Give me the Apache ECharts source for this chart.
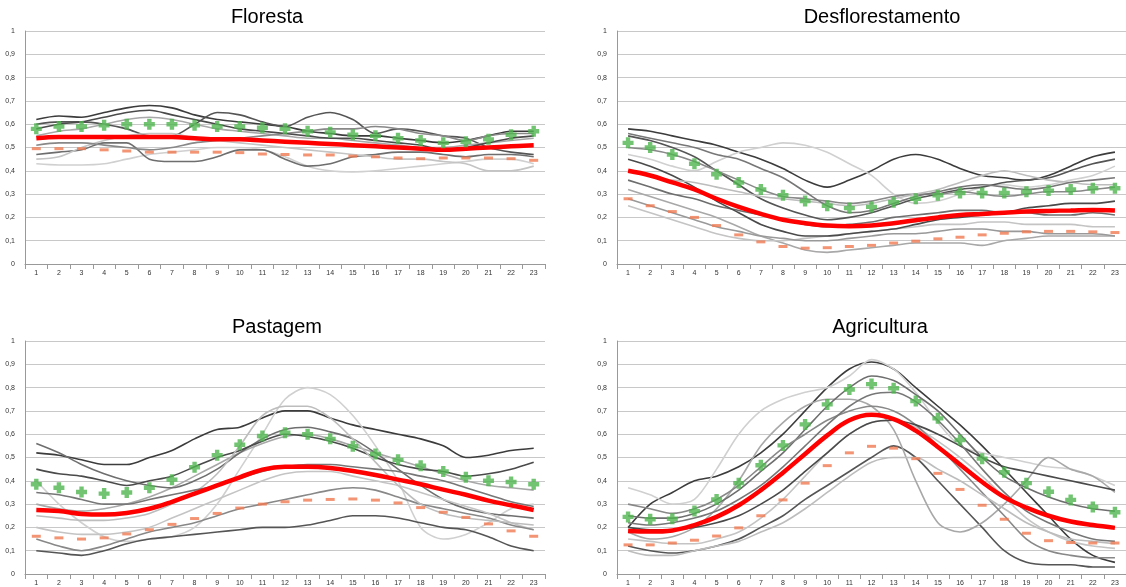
<!DOCTYPE html>
<html>
<head>
<meta charset="utf-8">
<script src="https://cdn.jsdelivr.net/npm/echarts@6/dist/echarts.min.js"></script>
<style>
	html, body { margin: 0; padding: 0; background: #fff; }
	#chart { width: 1126px; height: 587px; }
</style>
</head>
<body>
<div id="chart"></div>
<script type="text/javascript">
	var categories = ['1','2','3','4','5','6','7','8','9','10','11','12','13','14','15','16','17','18','19','20','21','22','23'];
	var yTicks = ['0','0,1','0,2','0,3','0,4','0,5','0,6','0,7','0,8','0,9','1'];

	// Floresta
	var florestaMean  = [.54,.545,.545,.545,.545,.545,.545,.54,.535,.535,.53,.525,.52,.515,.51,.505,.50,.495,.49,.495,.50,.505,.51];
	var florestaPlus  = [.58,.59,.59,.595,.60,.60,.60,.595,.59,.59,.585,.58,.57,.565,.555,.55,.54,.53,.52,.525,.535,.555,.57];
	var florestaMinus = [.495,.495,.495,.49,.485,.48,.48,.48,.48,.478,.472,.47,.468,.468,.463,.46,.455,.452,.455,.455,.455,.452,.445];
	var florestaSamples = [
		[.62,.635,.63,.65,.67,.68,.67,.64,.62,.61,.60,.59,.57,.56,.55,.55,.54,.53,.52,.53,.55,.57,.57],
		[.43,.425,.425,.43,.45,.47,.48,.49,.50,.50,.49,.46,.42,.40,.395,.40,.41,.42,.43,.44,.45,.45,.43],
		[.60,.61,.61,.60,.58,.55,.55,.60,.65,.64,.61,.59,.63,.65,.62,.56,.58,.57,.55,.54,.50,.48,.47],
		[.55,.57,.58,.60,.62,.63,.62,.60,.58,.57,.56,.55,.54,.54,.53,.52,.51,.50,.50,.51,.52,.53,.54],
		[.47,.48,.49,.52,.52,.45,.44,.44,.46,.49,.49,.45,.42,.43,.46,.47,.48,.48,.47,.46,.47,.47,.46],
		[.45,.46,.50,.53,.55,.56,.56,.54,.53,.52,.51,.50,.49,.48,.47,.46,.45,.45,.44,.43,.40,.40,.42],
		[.51,.52,.52,.51,.50,.49,.50,.52,.53,.54,.55,.56,.57,.58,.58,.59,.58,.56,.55,.53,.55,.56,.56],
		[.58,.60,.61,.63,.65,.66,.64,.62,.60,.58,.57,.56,.55,.54,.54,.53,.52,.51,.49,.50,.52,.54,.55]
	];

	// Desflorestamento
	var desfMean  = [.40,.38,.35,.32,.28,.245,.215,.19,.175,.165,.162,.165,.175,.188,.20,.21,.215,.22,.225,.228,.23,.232,.23];
	var desfPlus  = [.52,.50,.47,.43,.385,.35,.32,.295,.27,.25,.24,.245,.265,.28,.295,.305,.305,.305,.31,.315,.32,.325,.325];
	var desfMinus = [.28,.25,.225,.20,.165,.125,.095,.075,.068,.07,.075,.08,.09,.098,.108,.115,.125,.132,.138,.14,.14,.138,.135];
	var desfSamples = [
		[.58,.57,.55,.53,.51,.48,.45,.41,.36,.33,.36,.40,.45,.47,.45,.41,.38,.37,.36,.38,.42,.46,.48],
		[.47,.45,.42,.40,.44,.48,.50,.52,.51,.48,.43,.38,.30,.26,.27,.30,.33,.34,.33,.34,.36,.38,.42],
		[.55,.53,.50,.46,.40,.34,.28,.24,.21,.19,.20,.22,.25,.28,.30,.32,.33,.35,.36,.37,.40,.43,.45],
		[.32,.29,.26,.23,.20,.16,.12,.09,.06,.05,.06,.07,.08,.09,.09,.09,.08,.10,.11,.12,.12,.12,.12],
		[.36,.33,.30,.28,.25,.23,.21,.19,.17,.16,.17,.18,.20,.21,.22,.23,.23,.22,.22,.21,.21,.22,.21],
		[.25,.22,.19,.16,.13,.11,.10,.10,.11,.12,.13,.14,.15,.16,.17,.17,.18,.18,.17,.17,.17,.16,.16],
		[.50,.49,.47,.44,.40,.36,.32,.29,.28,.27,.26,.27,.29,.30,.30,.31,.30,.29,.30,.31,.31,.32,.33],
		[.45,.42,.38,.33,.27,.22,.17,.14,.12,.12,.13,.14,.15,.17,.19,.20,.21,.22,.24,.25,.26,.26,.27],
		[.40,.38,.36,.35,.33,.31,.29,.28,.27,.26,.25,.26,.28,.30,.32,.35,.38,.40,.38,.36,.35,.34,.34],
		[.56,.54,.52,.50,.47,.45,.41,.37,.31,.25,.22,.23,.26,.29,.31,.33,.34,.33,.32,.33,.35,.36,.37],
		[.28,.25,.22,.19,.16,.14,.12,.11,.10,.10,.11,.12,.13,.13,.14,.15,.15,.14,.14,.13,.13,.13,.12]
	];

	// Pastagem
	var pastMean  = [.275,.27,.258,.255,.262,.28,.31,.345,.38,.415,.448,.46,.46,.455,.442,.425,.405,.385,.362,.34,.315,.295,.275];
	var pastPlus  = [.385,.37,.352,.345,.35,.37,.405,.458,.51,.555,.592,.606,.60,.58,.548,.515,.49,.465,.44,.415,.40,.395,.385];
	var pastMinus = [.162,.155,.15,.155,.172,.19,.213,.238,.26,.283,.30,.31,.317,.32,.322,.317,.305,.285,.265,.243,.215,.185,.162];
	var pastSamples = [
		[.52,.51,.49,.47,.47,.50,.53,.58,.62,.63,.67,.70,.70,.67,.64,.62,.60,.58,.55,.50,.51,.53,.54],
		[.40,.30,.22,.16,.14,.15,.16,.20,.30,.45,.60,.75,.80,.77,.68,.55,.40,.20,.15,.17,.22,.28,.30],
		[.10,.09,.08,.10,.13,.15,.16,.17,.18,.19,.20,.20,.21,.23,.25,.25,.24,.22,.20,.19,.16,.12,.10],
		[.30,.28,.27,.28,.30,.33,.37,.42,.47,.52,.56,.59,.60,.58,.55,.52,.49,.46,.43,.40,.38,.37,.36],
		[.56,.52,.47,.43,.40,.38,.37,.40,.45,.52,.58,.62,.63,.61,.58,.52,.45,.38,.32,.28,.26,.25,.24],
		[.20,.18,.17,.17,.18,.20,.24,.28,.32,.36,.40,.43,.44,.44,.42,.40,.38,.35,.32,.29,.26,.22,.19],
		[.15,.12,.10,.12,.15,.18,.20,.22,.25,.28,.30,.32,.34,.36,.37,.36,.33,.30,.28,.26,.24,.21,.19],
		[.45,.43,.42,.40,.38,.40,.42,.46,.50,.53,.57,.60,.59,.57,.54,.50,.47,.45,.44,.42,.43,.45,.48],
		[.25,.24,.23,.23,.24,.26,.30,.35,.43,.55,.68,.72,.72,.67,.58,.48,.38,.30,.26,.24,.23,.22,.21],
		[.35,.34,.32,.30,.30,.32,.34,.36,.38,.41,.44,.46,.47,.47,.46,.45,.44,.42,.40,.37,.34,.31,.29]
	];

	// Agricultura
	var agriMean  = [.185,.182,.187,.21,.245,.295,.36,.435,.515,.595,.66,.683,.665,.615,.545,.47,.395,.33,.285,.25,.225,.21,.198];
	var agriPlus  = [.245,.235,.237,.27,.32,.39,.467,.552,.642,.728,.792,.815,.797,.742,.668,.575,.495,.437,.39,.353,.318,.288,.265];
	var agriMinus = [.125,.125,.133,.145,.163,.198,.25,.318,.39,.465,.52,.548,.54,.495,.432,.363,.295,.235,.175,.143,.135,.133,.133];
	var agriSamples = [
		[.20,.30,.35,.40,.42,.46,.52,.60,.70,.80,.88,.91,.88,.80,.72,.64,.55,.45,.35,.25,.15,.08,.05],
		[.37,.34,.30,.32,.45,.60,.70,.75,.78,.80,.85,.92,.88,.78,.65,.55,.52,.50,.48,.46,.45,.42,.38],
		[.12,.10,.09,.10,.12,.15,.20,.25,.32,.38,.44,.50,.55,.50,.40,.30,.20,.10,.05,.04,.04,.03,.03],
		[.18,.15,.16,.20,.28,.40,.55,.65,.72,.75,.75,.72,.62,.40,.22,.18,.22,.30,.40,.50,.45,.42,.35],
		[.25,.24,.24,.26,.30,.36,.44,.52,.62,.72,.80,.85,.83,.77,.70,.60,.50,.42,.37,.33,.30,.28,.27],
		[.15,.14,.13,.13,.15,.18,.24,.32,.42,.52,.60,.65,.66,.63,.57,.50,.42,.33,.24,.18,.14,.12,.11],
		[.30,.28,.26,.28,.32,.38,.46,.54,.60,.66,.70,.72,.70,.64,.55,.45,.35,.25,.15,.10,.08,.07,.07],
		[.20,.19,.19,.20,.22,.25,.30,.36,.44,.52,.60,.65,.66,.64,.60,.55,.50,.46,.44,.42,.40,.38,.36],
		[.10,.08,.08,.10,.12,.14,.18,.22,.28,.35,.42,.48,.50,.50,.45,.40,.34,.28,.22,.18,.15,.14,.13],
		[.22,.21,.22,.24,.27,.32,.38,.46,.55,.64,.72,.77,.78,.74,.66,.56,.45,.35,.27,.22,.18,.15,.14]
	];

	var panels = [
		{title: 'Floresta', mean: florestaMean, plus: florestaPlus, minus: florestaMinus, samples: florestaSamples, left: 25, top: 31, width: 520, cx: 262},
		{title: 'Desflorestamento', mean: desfMean, plus: desfPlus, minus: desfMinus, samples: desfSamples, left: 617, top: 31, width: 509, cx: 877},
		{title: 'Pastagem', mean: pastMean, plus: pastPlus, minus: pastMinus, samples: pastSamples, left: 25, top: 341, width: 520, cx: 272},
		{title: 'Agricultura', mean: agriMean, plus: agriPlus, minus: agriMinus, samples: agriSamples, left: 617, top: 341, width: 509, cx: 875}
	];
	var greys = ['#3c3c3c','#d0d0d0','#555555','#a8a8a8','#6e6e6e','#c4c4c4','#888888','#4a4a4a','#bdbdbd','#777777','#999999'];
	// thick cross, like the excel "+" marker
	var plusPath = 'path://M3,0h4v3h3v4h-3v3h-4v-3h-3v-4h3z';

	var option = {
		animation: false,
		backgroundColor: '#fff',
		title: [], grid: [], xAxis: [], yAxis: [], series: []
	};
	panels.forEach(function(p, i){
		option.title.push({
			text: p.title, left: p.cx, top: p.top - 29, textAlign: 'center',
			textStyle: {fontFamily: 'Liberation Sans', fontSize: 20, fontWeight: 'normal', color: '#000'}
		});
		option.grid.push({left: p.left, top: p.top, width: p.width, height: 233});
		option.xAxis.push({
			type: 'category', gridIndex: i, data: categories, boundaryGap: true,
			axisLine: {lineStyle: {color: '#999'}},
			axisTick: {show: true, lineStyle: {color: '#999'}},
			axisLabel: {fontSize: 7, color: '#333', margin: 6, interval: 0}
		});
		option.yAxis.push({
			type: 'value', gridIndex: i, min: 0, max: 1, interval: 0.1,
			axisLine: {show: true, lineStyle: {color: '#999'}},
			axisTick: {show: false},
			splitLine: {lineStyle: {color: '#c8c8c8'}},
			axisLabel: {fontSize: 7, color: '#333', margin: 10,
				formatter: function(v){ return yTicks[Math.round(v * 10)]; }}
		});
		p.samples.forEach(function(s, k){
			option.series.push({
				type: 'line', xAxisIndex: i, yAxisIndex: i, data: s, smooth: 0.3,
				showSymbol: false, silent: true,
				lineStyle: {color: greys[k % greys.length], width: 1.6}
			});
		});
		option.series.push({
			type: 'line', xAxisIndex: i, yAxisIndex: i, data: p.mean, smooth: 0.4,
			showSymbol: false, z: 5, lineStyle: {color: '#ff0000', width: 4.5}
		});
		option.series.push({
			type: 'scatter', xAxisIndex: i, yAxisIndex: i, data: p.plus, z: 6,
			symbol: plusPath, symbolSize: 11, itemStyle: {color: '#4fb54f'}
		});
		option.series.push({
			type: 'scatter', xAxisIndex: i, yAxisIndex: i, data: p.minus, z: 6,
			symbol: 'rect', symbolSize: [9, 3], itemStyle: {color: '#f07a52'}
		});
	});

	var myChart = echarts.init(document.getElementById('chart'));
	myChart.setOption(option);
</script>
</body>
</html>
